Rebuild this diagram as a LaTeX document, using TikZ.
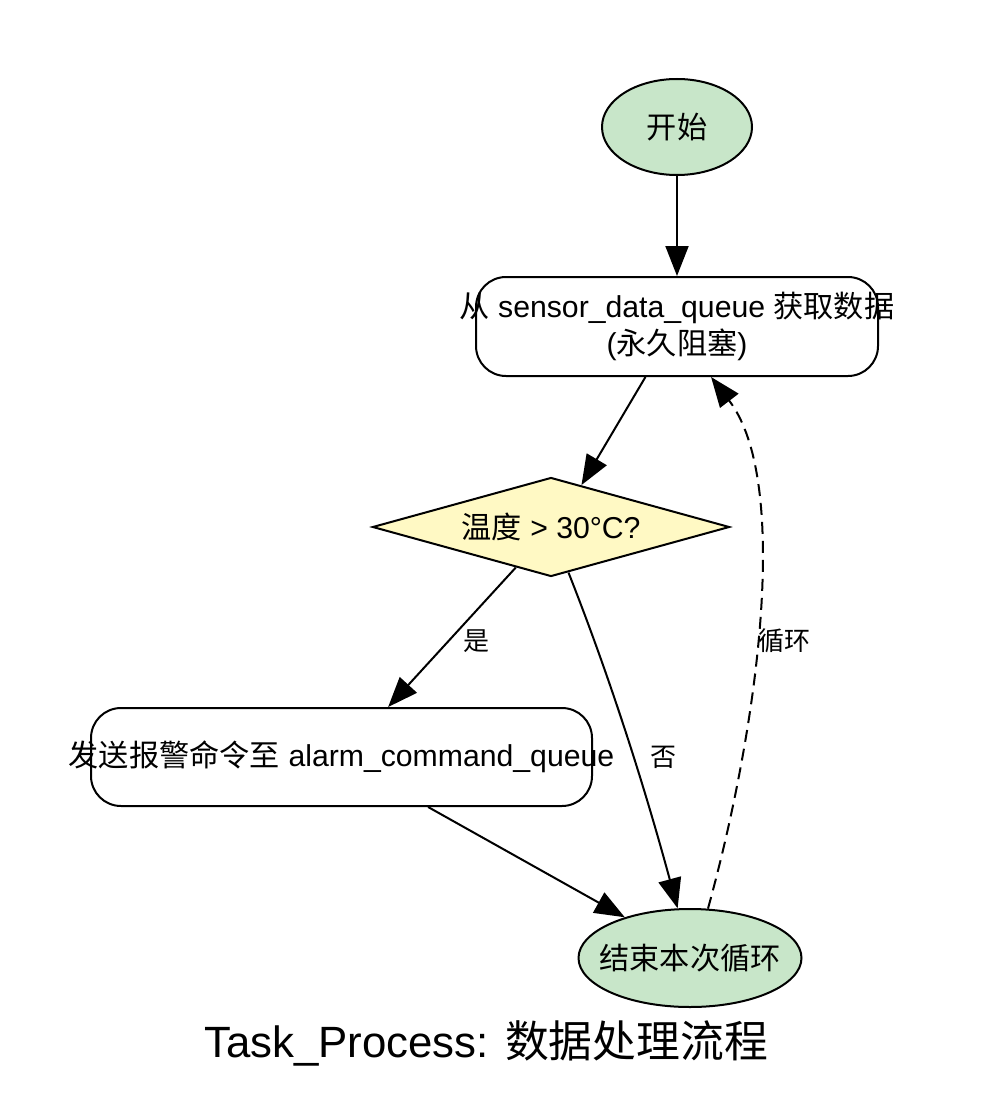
\documentclass[tikz,border=0pt]{standalone}
\usepackage{fontspec}
\setmainfont{Liberation Sans}
\newfontfamily\cjk{Noto Sans CJK SC}
\usetikzlibrary{shapes.geometric,arrows.meta,calc}
\definecolor{termfill}{HTML}{C8E6C9}
\definecolor{decfill}{HTML}{FFF9C4}
\tikzset{
  base/.style={draw=black, line width=2pt, inner sep=0pt},
  txt/.style={inner sep=0pt, align=center, font=\fontsize{30.2}{37}\selectfont},
  term/.style={base, ellipse, fill=termfill},
  procbox/.style={base, rectangle, rounded corners=30pt, fill=white},
  decision/.style={base, diamond, fill=decfill},
  arr/.style={line width=2pt, -{Triangle[length=30pt,width=23pt]}},
  lbl/.style={font=\fontsize{26}{30}\selectfont, inner sep=0pt},
}
\begin{document}
\begin{tikzpicture}[x=1pt,y=-1pt]
\useasboundingbox (0,0) rectangle (1000,1115);
\node[term, minimum width=150pt, minimum height=96pt] (start) at (677,127) {};
\node[txt] (starttxt) at (start.center) {{\cjk 开始}};
\node[procbox, minimum width=402pt, minimum height=99pt] (fetch) at (677,326.5) {};
\node[txt] (fetchtxt) at (fetch.center) {{\cjk 从} sensor\_data\_queue {\cjk 获取数据}\\({\cjk 永久阻塞})};
\node[decision, minimum width=357pt, minimum height=99pt] (cond) at (551,527) {};
\node[txt] (condtxt) at (cond.center) {{\cjk 温度} > 30°C?};
\node[procbox, minimum width=501pt, minimum height=98pt] (alarm) at (341.5,757) {};
\node[txt] (alarmtxt) at (alarm.center) {{\cjk 发送报警命令至} alarm\_command\_queue};
\node[term, minimum width=223pt, minimum height=98pt] (finish) at (690,958) {};
\node[txt] (finishtxt) at (finish.center) {{\cjk 结束本次循环}};
\node[inner sep=0pt, font=\fontsize{43.8}{50}\selectfont] (title) at (486,1043) {Task\_Process: {\cjk 数据处理流程}};

\draw[arr] (start) -- (fetch);
\draw[arr] (fetch.238) -- (cond.54.5);
\draw[arr] (cond.229.6) -- (alarm.47.7);
\draw[arr] (cond.-69.7) .. controls (605,665) and (640,770) .. (finish.104.6);
\draw[arr] (alarm.-30.3) -- (finish.148.5);
\draw[arr, dash pattern=on 12pt off 7pt] (finish.70.9) .. controls (760,720) and (790,480) .. (fetch.-56);

\node[lbl] (lyes) at (476,641) {{\cjk 是}};
\node[lbl] (lno) at (663,757) {{\cjk 否}};
\node[lbl] (lloop) at (784,641) {{\cjk 循环}};
\end{tikzpicture}
\end{document}
